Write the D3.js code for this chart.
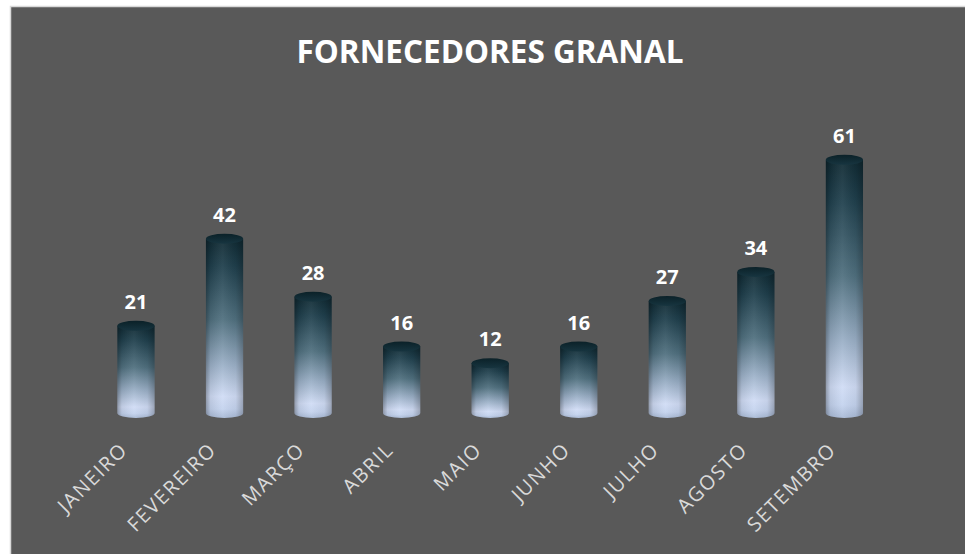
<!DOCTYPE html>
<html><head><meta charset="utf-8">
<script src="https://cdn.jsdelivr.net/npm/d3@7"></script>
<style>body{margin:0;background:#fff;}svg{display:block;}</style>
</head><body>
<svg id="chart" width="965" height="554"></svg>
<script>
const categories = ["JANEIRO","FEVEREIRO","MARÇO","ABRIL","MAIO","JUNHO","JULHO","AGOSTO","SETEMBRO"];
const values = [21,42,28,16,12,16,27,34,61];
const title = "FORNECEDORES GRANAL";

const svg = d3.select("#chart");
svg.append("rect").attr("x",10.5).attr("y",6.5).attr("width",960).attr("height",553)
  .attr("fill","#595959").attr("stroke","#d9d9d9").attr("stroke-width",1.5);

const defs = svg.append("defs");
const vg = defs.append("linearGradient").attr("id","body").attr("x1",0).attr("y1",0).attr("x2",0).attr("y2",1);
[[0,"#112b34"],[0.15,"#1f3f4c"],[0.45,"#50707f"],[0.7,"#9aafc6"],[0.88,"#d0dcf5"],[0.95,"#c4d3ee"],[1,"#a9bad6"]]
  .forEach(([o,c])=>vg.append("stop").attr("offset",o).attr("stop-color",c));
const hg = defs.append("linearGradient").attr("id","shade").attr("x1",0).attr("y1",0).attr("x2",1).attr("y2",0);
[[0,"#000",0.3],[0.12,"#000",0.08],[0.45,"#fff",0.06],[0.8,"#000",0.05],[1,"#000",0.25]]
  .forEach(([o,c,a])=>hg.append("stop").attr("offset",o).attr("stop-color",c).attr("stop-opacity",a));
const tg = defs.append("linearGradient").attr("id","top").attr("x1",0).attr("y1",0).attr("x2",0).attr("y2",1);
[[0,"#0b2128"],[1,"#173540"]].forEach(([o,c])=>tg.append("stop").attr("offset",o).attr("stop-color",c));

const x = d3.scaleBand().domain(categories).range([91.7,888.7]).paddingInner(0.58).paddingOuter(0.29);
const y = d3.scaleLinear().domain([0,70]).range([413,122.5]);
const ry = 5;

const g = svg.append("g");
categories.forEach((c,i)=>{
  const v = values[i];
  const cx = x(c) + x.bandwidth()/2;
  const rx = x.bandwidth()/2;
  const yt = y(v), yb = y(0);
  const d = `M${cx-rx},${yt} L${cx-rx},${yb} A${rx},${ry} 0 0 0 ${cx+rx},${yb} L${cx+rx},${yt} Z`;
  g.append("path").attr("d",d).attr("fill","url(#body)");
  g.append("path").attr("d",d).attr("fill","url(#shade)");
  g.append("ellipse").attr("cx",cx).attr("cy",yt).attr("rx",rx).attr("ry",ry).attr("fill","url(#top)");
  g.append("text").attr("x",cx).attr("y",yt-17).attr("text-anchor","middle")
    .attr("font-family","Open Sans, sans-serif").attr("font-weight",700).attr("font-size",20)
    .attr("fill","#ffffff").text(v);
  g.append("text").attr("transform",`translate(${cx-7},${451}) rotate(-45)`)
    .attr("text-anchor","end").attr("font-family","Open Sans, sans-serif").attr("font-size",20)
    .attr("letter-spacing",1.6)
    .attr("fill","#d9d9d9").text(c);
});

svg.append("text").attr("x",490).attr("y",63).attr("text-anchor","middle")
  .attr("font-family","Open Sans, sans-serif").attr("font-weight",700).attr("font-size",31.5)
  .attr("fill","#ffffff").text(title);
</script>
</body></html>
